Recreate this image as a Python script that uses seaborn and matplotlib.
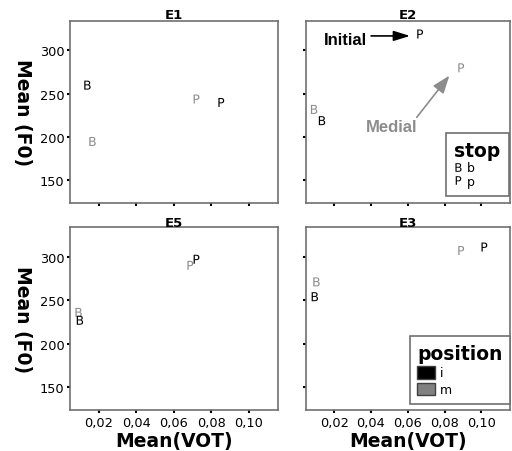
import matplotlib
matplotlib.use("Agg")
import matplotlib.pyplot as plt
import seaborn as sns
import pandas as pd
from matplotlib.lines import Line2D
from matplotlib.patches import Patch

# ---- data ----
panels = ["E1", "E2", "E5", "E3"]
panel = ["E1"] * 4 + ["E2"] * 4 + ["E5"] * 4 + ["E3"] * 4
position = ["m", "m", "i", "i"] * 4
stop = ["b", "p", "b", "p"] * 4
vot = [0.0167, 0.0721, 0.0140, 0.0853,
       0.0091, 0.0890, 0.0134, 0.0667,
       0.0093, 0.0688, 0.0100, 0.0721,
       0.0104, 0.0890, 0.0095, 0.1016]
f0 = [195, 244, 260, 240,
      232, 280, 219, 319,
      236, 290, 227, 297,
      271, 307, 254, 311]
x_ticks = [0.02, 0.04, 0.06, 0.08, 0.10]
x_tick_labels = ["0,02", "0,04", "0,06", "0,08", "0,10"]
y_ticks = [150, 200, 250, 300]
y_tick_labels = ["150", "200", "250", "300"]

df = pd.DataFrame({"panel": panel, "position": position, "stop": stop,
                   "vot": vot, "f0": f0})

sns.set_style("white")
plt.rcParams["font.family"] = ["DejaVu Sans"]
plt.rcParams["mathtext.fontset"] = "dejavusans"
for key in ("text.color", "axes.labelcolor", "xtick.color", "ytick.color",
            "xtick.labelcolor", "ytick.labelcolor"):
    plt.rcParams[key] = "black"

GRAY = "#8c8c8c"
pal = {"i": "black", "m": GRAY}
mk = {"b": "$\\mathsf{B}$", "p": "$\\mathsf{P}$"}

fig = plt.figure(figsize=(5.12, 4.52), dpi=100)
W, H = 512, 452
boxes = {
    "E1": (70, 22, 278, 204),
    "E2": (306, 22, 510, 204),
    "E5": (70, 228, 278, 411),
    "E3": (306, 228, 510, 411),
}
axes = {}
for name in panels:
    x0, y0, x1, y1 = boxes[name]
    ax = fig.add_axes([x0 / W, 1 - y1 / H, (x1 - x0) / W, (y1 - y0) / H])
    axes[name] = ax
    sub = df[df.panel == name]
    sns.scatterplot(data=sub, x="vot", y="f0", hue="position", style="stop",
                    palette=pal, markers=mk, s=42, linewidth=0,
                    legend=False, ax=ax)
    ax.set_xlim(0.0047, 0.1155)
    ax.set_ylim(124, 334)
    ax.set_xticks(x_ticks)
    ax.set_yticks(y_ticks)
    ax.set_xticklabels(x_tick_labels, fontsize=9.3)
    ax.set_yticklabels(y_tick_labels, fontsize=9.3)
    ax.tick_params(direction="out", length=2.5, width=1.5, color="black",
                   pad=1.5, bottom=True, left=True)
    for sp in ax.spines.values():
        sp.set_color("#707070")
        sp.set_linewidth(1.2)
    ax.set_title(name, fontsize=9.5, fontweight="bold", pad=1, color="black")
    ax.set_xlabel("")
    ax.set_ylabel("")
    if name in ("E1", "E2"):
        ax.tick_params(labelbottom=False)
    if name in ("E2", "E3"):
        ax.tick_params(labelleft=False)

for name in ("E1", "E5"):
    ax = axes[name]
    ax.set_ylabel("Mean (F0)", fontsize=13.5, fontweight="bold",
                  rotation=270, va="center", ha="center", color="black")
    ax.yaxis.set_label_coords(-0.23, 0.5)
for name in ("E5", "E3"):
    ax = axes[name]
    ax.set_xlabel("Mean(VOT)", fontsize=13.5, fontweight="bold",
                  va="center", ha="center", color="black")
    ax.xaxis.set_label_coords(0.5, -0.169)

# annotations in E2
ax = axes["E2"]
ax.annotate("Initial", xy=(0.298, 0.896), xycoords="axes fraction",
            ha="right", va="center", fontsize=12, fontweight="bold",
            family="Liberation Sans", color="black")
ax.annotate("", xy=(0.51, 0.918), xytext=(0.319, 0.918),
            xycoords="axes fraction", textcoords="axes fraction",
            arrowprops=dict(arrowstyle="-|>,head_length=0.55,head_width=0.17",
                            color="black", lw=1.2,
                            mutation_scale=18, shrinkA=0, shrinkB=0))
ax.annotate("Medial", xy=(0.422, 0.418), xycoords="axes fraction",
            ha="center", va="center", fontsize=12, fontweight="bold",
            family="Liberation Sans", color=GRAY)
ax.annotate("", xy=(0.703, 0.70), xytext=(0.543, 0.471),
            xycoords="axes fraction", textcoords="axes fraction",
            arrowprops=dict(arrowstyle="-|>,head_length=0.6,head_width=0.22",
                            color=GRAY, lw=1.2,
                            mutation_scale=18, shrinkA=0, shrinkB=0))

# stop legend
stop_handles = [
    Line2D([], [], marker=mk["b"], color="black", linestyle="",
           markersize=6.2, markeredgewidth=0),
    Line2D([], [], marker=mk["p"], color="black", linestyle="",
           markersize=6.2, markeredgewidth=0),
]
leg1 = ax.legend(stop_handles, ["b", "p"], title="stop", loc="lower right",
                 bbox_to_anchor=(0.9966, 0.037), borderaxespad=0,
                 fontsize=9, title_fontproperties={"weight": "bold", "size": 13.5},
                 frameon=True, fancybox=False, edgecolor="#707070",
                 framealpha=1, handlelength=0.55, handletextpad=0.45,
                 labelspacing=0.05, borderpad=0.7, alignment="left")
leg1.get_frame().set_linewidth(1.2)

# position legend
ax3 = axes["E3"]
pos_handles = [Patch(facecolor="black", edgecolor="#404040"),
               Patch(facecolor="#808080", edgecolor="#404040")]
leg2 = ax3.legend(pos_handles, ["i", "m"], title="position", loc="lower right",
                  bbox_to_anchor=(1.0, 0.035), borderaxespad=0,
                  fontsize=9, title_fontproperties={"weight": "bold", "size": 13.5},
                  frameon=True, fancybox=False, edgecolor="#707070",
                  framealpha=1, handlelength=1.44, handleheight=1.16,
                  handletextpad=0.4, labelspacing=0.25, borderpad=0.6,
                  alignment="left")
leg2.get_frame().set_linewidth(1.2)

fig.savefig("out.png", dpi=100)
